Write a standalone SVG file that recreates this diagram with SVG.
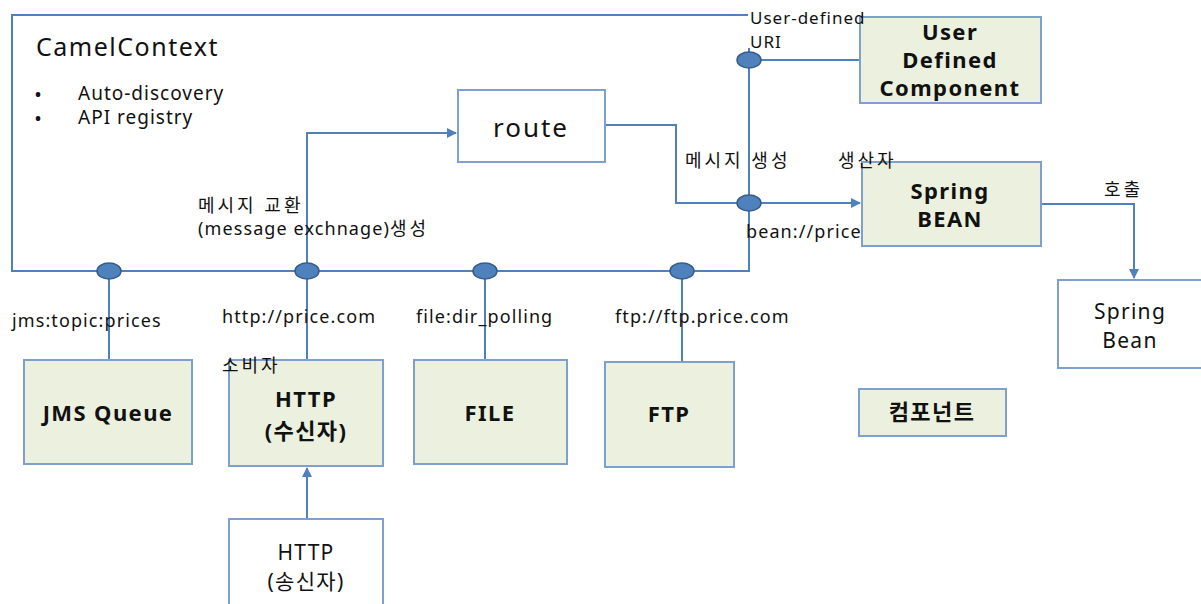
<svg xmlns="http://www.w3.org/2000/svg" width="1201" height="604" viewBox="0 0 1201 604">
<style>
text{font-family:"Noto Sans","Noto Sans CJK KR",sans-serif;fill:#111}
.ln{fill:none;stroke:#4F81BD;stroke-width:2}
.box{fill:#EBF1DE;stroke:#7EA0D0;stroke-width:2}
.wbox{fill:#fff;stroke:#7EA0D0;stroke-width:2}
.pt{fill:#4F81BD;stroke:#385D8A;stroke-width:1.5}
.lb{font-size:18px;letter-spacing:1.1px}
.ko{letter-spacing:3px}
.bd{font-size:22px;font-weight:bold;text-anchor:middle;letter-spacing:1.4px}
.nm{font-size:21px;text-anchor:middle;letter-spacing:1.3px}
.bl{font-size:16px;font-weight:bold}
</style>
<defs>
<marker id="ar" viewBox="0 0 10 10" refX="9" refY="5" markerWidth="5" markerHeight="5" orient="auto"><path d="M0,0L10,5L0,10z" fill="#4F81BD"/></marker>
</defs>
<g id="camelcontext">
<path class="ln" d="M748,15H12V271H749V48"/>
<text x="36" y="56" font-size="25" letter-spacing="1.5">CamelContext</text>
<text class="bl" x="35" y="100">•</text>
<text x="78" y="100" font-size="19" letter-spacing="1">Auto-discovery</text>
<text class="bl" x="35" y="124">•</text>
<text x="78" y="124" font-size="19" letter-spacing="1">API registry</text>
</g>
<g id="connectors">
<path class="ln" d="M109,271V360"/>
<path class="ln" d="M307,360V133H456" marker-end="url(#ar)"/>
<path class="ln" d="M485,271V364"/>
<path class="ln" d="M682,271V362"/>
<path class="ln" d="M749,60H860"/>
<path class="ln" d="M605,125H676V203H860" marker-end="url(#ar)"/>
<path class="ln" d="M1041,204H1134V278" marker-end="url(#ar)"/>
<path class="ln" d="M307,519V468" marker-end="url(#ar)"/>
</g>
<g id="endpoints">
<ellipse class="pt" cx="109" cy="271" rx="12" ry="8"/>
<ellipse class="pt" cx="307" cy="271" rx="12" ry="8"/>
<ellipse class="pt" cx="485" cy="271" rx="12" ry="8"/>
<ellipse class="pt" cx="682" cy="271" rx="12" ry="8"/>
<ellipse class="pt" cx="749" cy="60" rx="12" ry="8"/>
<ellipse class="pt" cx="749" cy="203" rx="12" ry="8"/>
</g>
<g id="route">
<rect class="wbox" x="458" y="90" width="147" height="72"/>
<text x="531" y="137" font-size="26" letter-spacing="2" text-anchor="middle">route</text>
</g>
<g id="user-defined-component">
<rect class="box" x="860" y="17" width="181" height="86"/>
<text class="bd" x="950" y="40">User</text>
<text class="bd" x="950" y="68">Defined</text>
<text class="bd" x="950" y="96">Component</text>
</g>
<g id="spring-bean-component">
<rect class="box" x="862" y="162" width="179" height="84"/>
<text class="bd" x="950" y="199">Spring</text>
<text class="bd" x="950" y="227">BEAN</text>
</g>
<g id="spring-bean">
<rect class="wbox" x="1058" y="280" width="145" height="88"/>
<text class="nm" x="1130" y="319">Spring</text>
<text class="nm" x="1130" y="348">Bean</text>
</g>
<g id="jms-queue">
<rect class="box" x="24" y="360" width="168" height="104"/>
<text class="bd" x="108" y="421">JMS Queue</text>
</g>
<g id="http-receiver">
<rect class="box" x="229" y="360" width="154" height="106"/>
<text class="bd" x="306" y="407">HTTP</text>
<text class="bd" x="306" y="439">(수신자)</text>
</g>
<g id="file">
<rect class="box" x="414" y="360" width="153" height="104"/>
<text class="bd" x="490" y="421">FILE</text>
</g>
<g id="ftp">
<rect class="box" x="605" y="362" width="129" height="105"/>
<text class="bd" x="669" y="422">FTP</text>
</g>
<g id="component-legend">
<rect class="box" x="859" y="389" width="147" height="47"/>
<text class="bd" x="932" y="420" letter-spacing="3">컴포넌트</text>
</g>
<g id="http-sender">
<rect class="wbox" x="229" y="519" width="154" height="90"/>
<text class="nm" x="306" y="560">HTTP</text>
<text class="nm" x="306" y="589">(송신자)</text>
</g>
<g id="labels">
<text class="lb ko" x="198" y="212">메시지 교환</text>
<text class="lb" x="198" y="235">(message exchnage)<tspan class="ko">생성</tspan></text>
<text x="750" y="24" font-size="17" letter-spacing="1">User-defined</text>
<text x="750" y="48" font-size="17" letter-spacing="1">URI</text>
<text class="lb ko" x="685" y="167">메시지 생성</text>
<text class="lb ko" x="838" y="167">생산자</text>
<text class="lb" x="746" y="238">bean://price</text>
<text class="lb ko" x="1104" y="196">호출</text>
<text class="lb" x="12" y="327">jms:topic:prices</text>
<text class="lb" x="222" y="323">http://price.com</text>
<text class="lb" x="416" y="323">file:dir_polling</text>
<text class="lb" x="615" y="323">ftp://ftp.price.com</text>
<text class="lb ko" x="222" y="372">소비자</text>
</g>
</svg>
